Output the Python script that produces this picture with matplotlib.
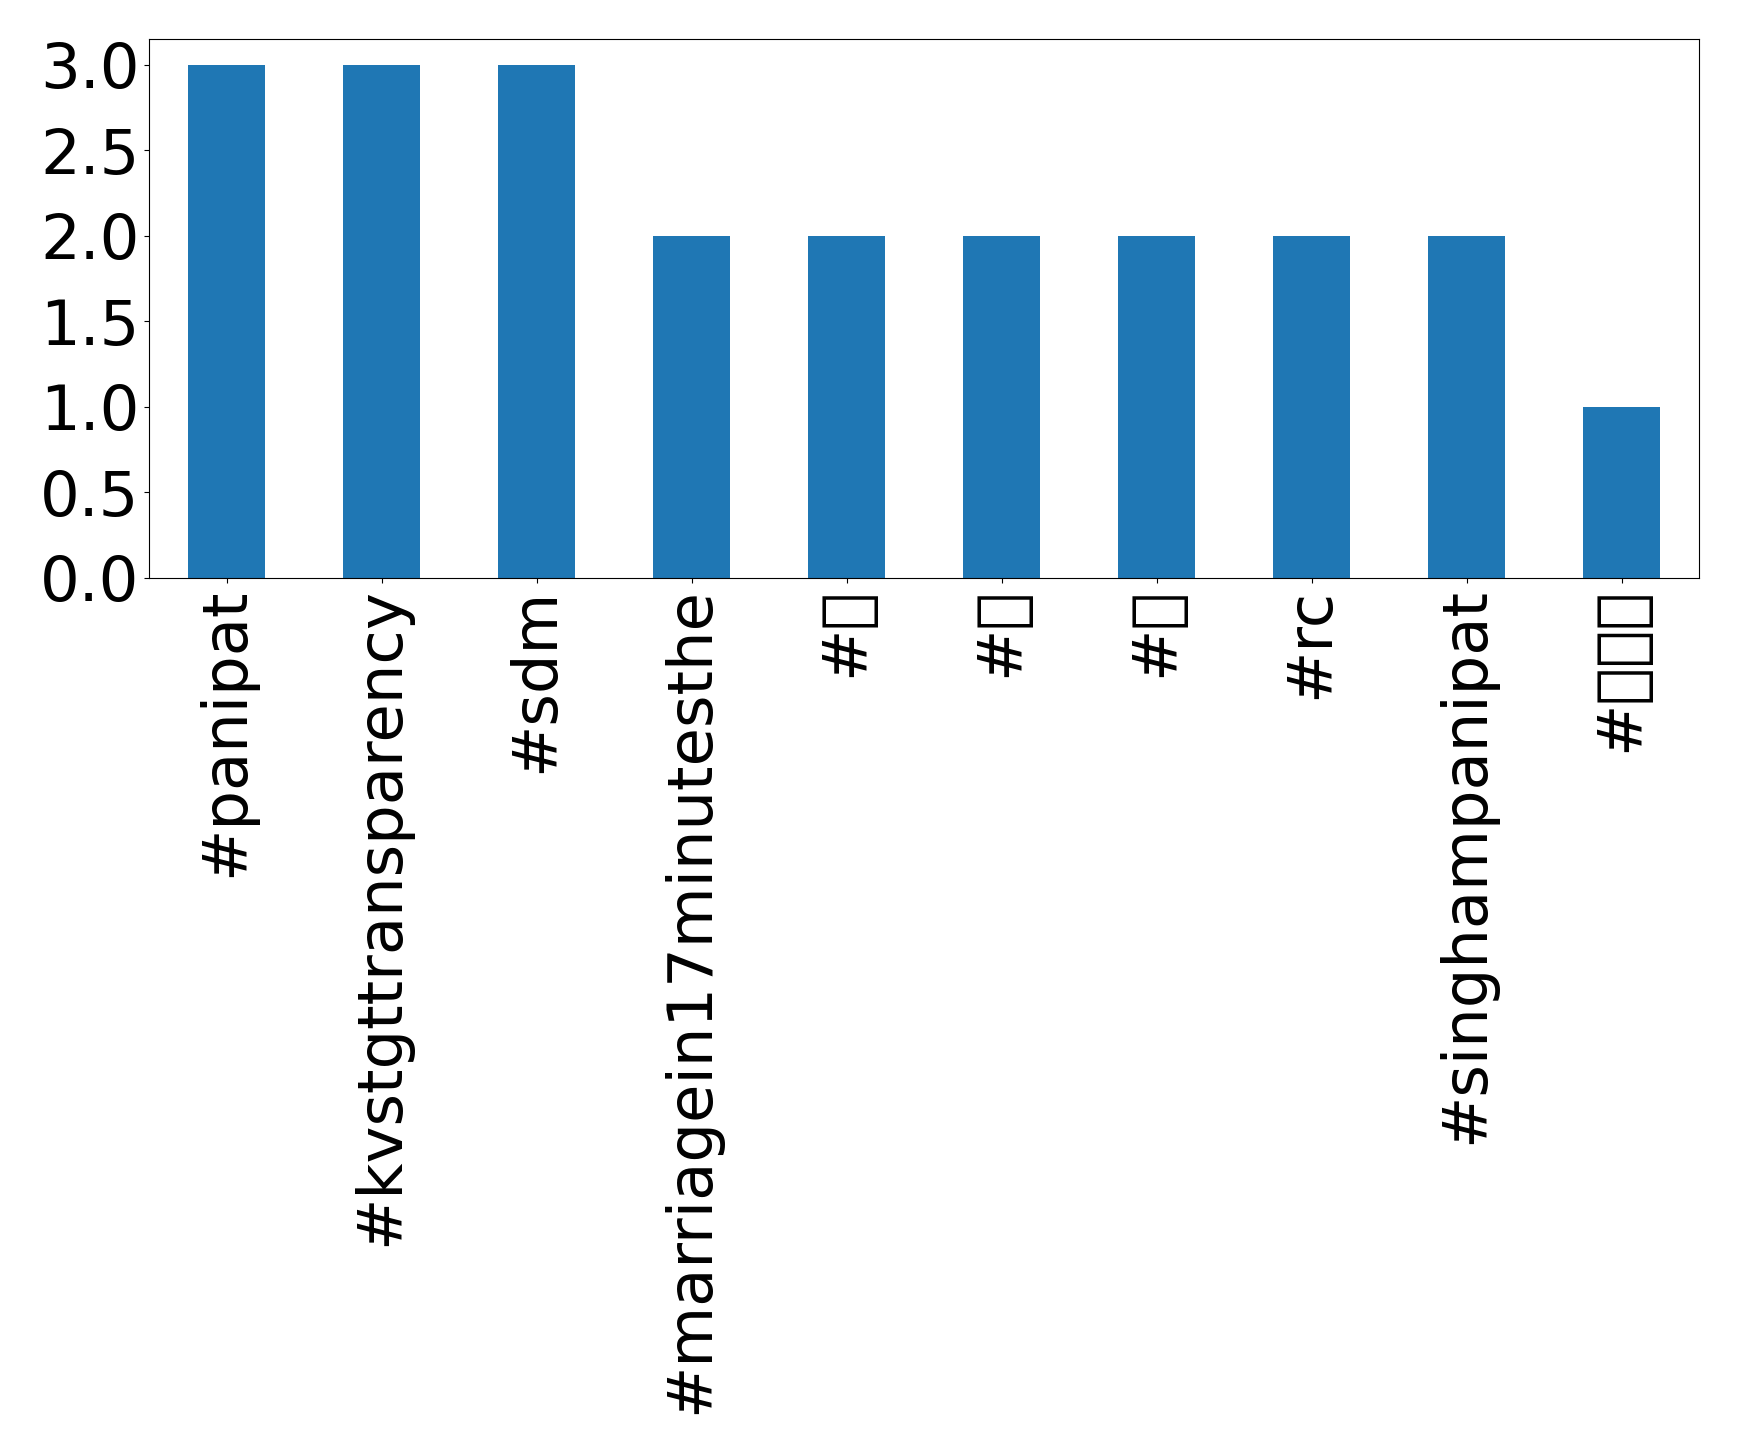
import matplotlib
matplotlib.use('Agg')
import matplotlib.pyplot as plt
import pandas as pd

# hashtag counts (top 10); the Hindi tags come out as boxes, same as the original
hashtags = ['#panipat', '#kvstgttransparency', '#sdm', '#marriagein17minutesthe',
            '#न', '#म', '#स', '#rc', '#singhampanipat', '#राम']
counts = [3, 3, 3, 2, 2, 2, 2, 2, 2, 1]

s = pd.Series(counts, index=hashtags)

fig = plt.figure(figsize=(17.39, 14.55), dpi=100)
ax = fig.add_axes([0.0857, 0.603, 0.977 - 0.0857, 0.973 - 0.603])
s.plot(kind='bar', ax=ax, fontsize=45)

plt.savefig('out.png', dpi=100)
